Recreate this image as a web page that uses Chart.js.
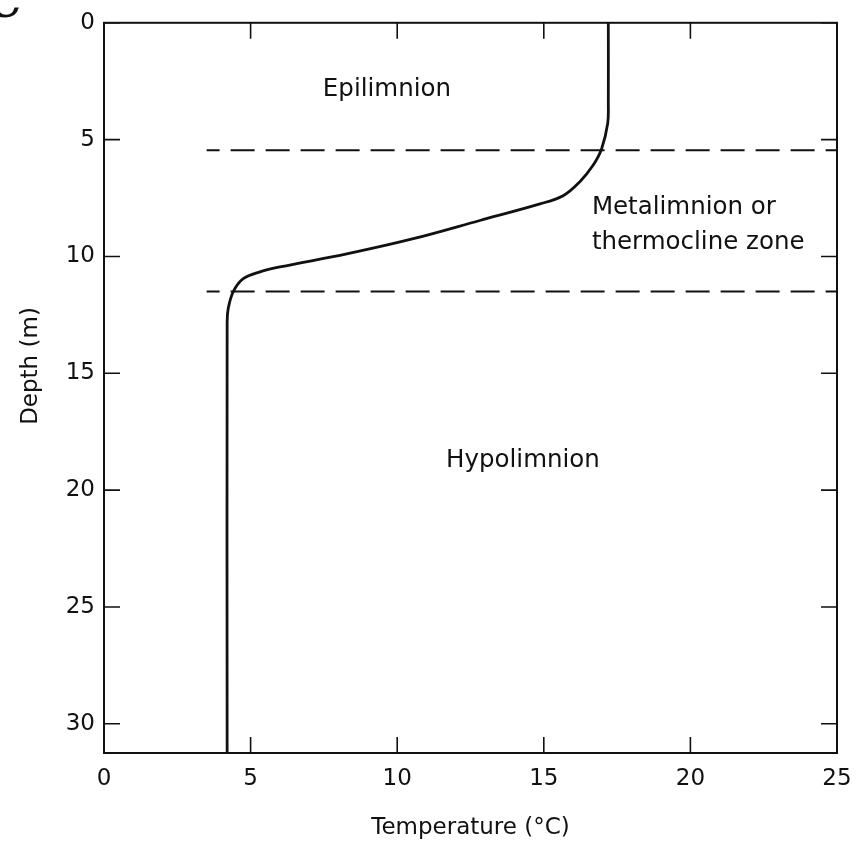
<!DOCTYPE html>
<html>
<head>
<meta charset="utf-8">
<script src="https://cdn.jsdelivr.net/npm/chart.js@4.4.1/dist/chart.umd.min.js"></script>
<style>
  html, body { margin: 0; padding: 0; background: #fff; }
  #wrap { width: 868px; height: 843px; position: relative; }
</style>
</head>
<body>
<div id="wrap"><canvas id="myChart"></canvas></div>
<script>
// temperature profile (temperature in degC, depth in m)
const profileTemp  = [17.2, 17.2, 17.18, 16.97, 16.68, 16.23, 15.66, 14.87, 12.82, 10.55, 8.28, 6.0, 5.32, 4.75, 4.41, 4.24, 4.2, 4.2];
const profileDepth = [0, 3.4, 4.3, 5.4, 6.1, 6.8, 7.4, 7.75, 8.46, 9.24, 9.89, 10.45, 10.66, 10.95, 11.5, 12.2, 12.8, 31.3];

// dashed zone boundaries
const boundaryDepths = [5.45, 11.5];
const boundaryFrom = 3.5;
const boundaryTo = 25;

// zone labels
const zoneLabels = ['Epilimnion', 'Metalimnion or', 'thermocline zone', 'Hypolimnion'];
const zoneTemp   = [9.65, 16.64, 16.64, 14.29];
const zoneDepth  = [2.86, 7.9, 9.42, 18.72];
const zoneAlign  = ['center', 'left', 'left', 'center'];

const xTicks = [0, 5, 10, 15, 20, 25];
const yTicks = [0, 5, 10, 15, 20, 25, 30];

const FONT = 'DejaVu Sans';
const INK = '#111';

const ctx = document.getElementById('myChart');

const datasets = [{
  label: 'profile',
  data: profileTemp.map((t, i) => ({ x: t, y: profileDepth[i] })),
  showLine: true,
  borderColor: INK,
  borderWidth: 2.8,
  pointRadius: 0,
  tension: 0.35,
  fill: false
}];

boundaryDepths.forEach((d, i) => {
  datasets.push({
    label: 'boundary' + i,
    data: [{ x: boundaryFrom, y: d }, { x: boundaryTo, y: d }],
    showLine: true,
    borderColor: INK,
    borderWidth: 2,
    borderDash: [24, 11],
    borderDashOffset: 11,
    pointRadius: 0
  });
});

const decorPlugin = {
  id: 'decor',
  afterDraw(chart) {
    const c = chart.ctx;
    const xs = chart.scales.x, ys = chart.scales.y;
    const a = chart.chartArea;
    c.save();
    // frame
    c.strokeStyle = INK;
    c.lineWidth = 2;
    c.strokeRect(a.left, a.top, a.right - a.left, a.bottom - a.top);
    // inward ticks on all four sides
    const len = 16;
    c.lineWidth = 1.6;
    c.beginPath();
    xTicks.forEach(v => {
      const px = xs.getPixelForValue(v);
      c.moveTo(px, a.bottom); c.lineTo(px, a.bottom - len);
      c.moveTo(px, a.top); c.lineTo(px, a.top + len);
    });
    yTicks.forEach(v => {
      const py = ys.getPixelForValue(v);
      c.moveTo(a.left, py); c.lineTo(a.left + len, py);
      c.moveTo(a.right, py); c.lineTo(a.right - len, py);
    });
    c.stroke();

    // zone labels
    c.fillStyle = INK;
    c.font = '24.5px "' + FONT + '"';
    c.textBaseline = 'middle';
    zoneLabels.forEach((txt, i) => {
      c.textAlign = zoneAlign[i];
      c.fillText(txt, xs.getPixelForValue(zoneTemp[i]), ys.getPixelForValue(zoneDepth[i]));
    });

    // y axis title
    c.save();
    c.translate(31, 366);
    c.rotate(-Math.PI / 2);
    c.textAlign = 'center';
    c.font = '23px "' + FONT + '"';
    c.fillText('Depth (m)', 0, 0);
    c.restore();

    // panel letter, cut off at the corner
    c.font = 'bold 44px "DejaVu Serif"';
    c.textAlign = 'left';
    c.textBaseline = 'alphabetic';
    c.fillText('C', -14, 17);
    c.restore();
  }
};

new Chart(ctx, {
  type: 'scatter',
  data: { datasets: datasets },
  options: {
    responsive: true,
    maintainAspectRatio: false,
    animation: false,
    layout: { padding: { top: 20, right: 31, left: 0, bottom: 0 } },
    plugins: {
      legend: { display: false },
      tooltip: { enabled: false }
    },
    scales: {
      x: {
        type: 'linear',
        min: 0,
        max: 25,
        grid: { display: false, drawTicks: false },
        border: { display: false },
        ticks: {
          stepSize: 5,
          padding: 12,
          color: INK,
          font: { family: FONT, size: 23 }
        },
        title: {
          display: true,
          text: 'Temperature (°C)',
          color: INK,
          font: { family: FONT, size: 23 },
          padding: { top: 0, bottom: 1 }
        },
        afterFit(scale) { scale.height = 90; }
      },
      y: {
        type: 'linear',
        reverse: true,
        min: 0,
        max: 31.25,
        afterBuildTicks(scale) { scale.ticks = yTicks.map(v => ({ value: v })); },
        grid: { display: false, drawTicks: false },
        border: { display: false },
        ticks: {
          padding: 9,
          color: INK,
          font: { family: FONT, size: 23 }
        },
        afterFit(scale) { scale.width = 104; }
      }
    }
  },
  plugins: [decorPlugin]
});
</script>
</body>
</html>
